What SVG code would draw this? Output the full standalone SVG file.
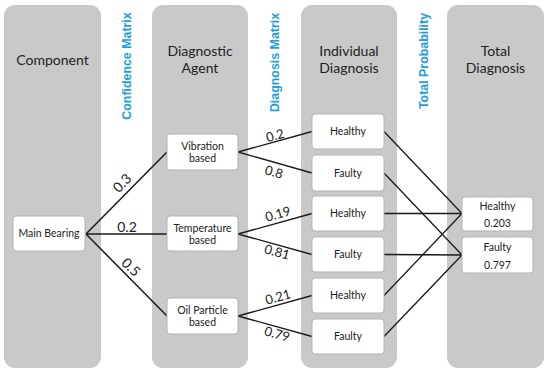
<svg xmlns="http://www.w3.org/2000/svg" width="550" height="374" viewBox="0 0 550 374">
<style>
.col{fill:#c9c9c9;}
.hdr{font-family:Lato,"Open Sans",sans-serif;font-size:14px;fill:#222;text-anchor:middle;}
.blue{font-family:"Liberation Sans",Arial,sans-serif;font-weight:bold;font-size:12.4px;fill:#1e9de0;text-anchor:middle;}
.box{fill:#fff;stroke:#b3b3b3;stroke-width:1;}
.t{font-family:Lato,"Open Sans",sans-serif;font-size:10.5px;fill:#222;text-anchor:middle;}
.lbl{font-family:Lato,"Open Sans",sans-serif;font-size:14px;fill:#222;text-anchor:middle;}
.sl{font-family:Lato,"Open Sans",sans-serif;font-size:13px;fill:#222;text-anchor:middle;}
.ln{stroke:#1a1a1a;stroke-width:1.3;fill:none;}
.ln2{stroke:#1a1a1a;stroke-width:1.5;fill:none;}
</style>
<rect width="550" height="374" fill="#fff"/>
<g id="columns">
<rect class="col" x="4" y="5" width="97" height="363" rx="11"/>
<rect class="col" x="152" y="5" width="96" height="363" rx="11"/>
<rect class="col" x="301" y="5" width="96" height="363" rx="11"/>
<rect class="col" x="447" y="5" width="97" height="363" rx="11"/>
<text class="hdr" x="52.5" y="64.5">Component</text>
<text class="hdr" x="200" y="56">Diagnostic</text>
<text class="hdr" x="200" y="73">Agent</text>
<text class="hdr" x="349" y="56">Individual</text>
<text class="hdr" x="349" y="73">Diagnosis</text>
<text class="hdr" x="495.5" y="56">Total</text>
<text class="hdr" x="495.5" y="73">Diagnosis</text>
</g>
<g id="matrix-labels">
<text class="blue" transform="translate(131,66) rotate(-90)">Confidence Matrix</text>
<text class="blue" transform="translate(279,62.5) rotate(-90)">Diagnosis Matrix</text>
<text class="blue" transform="translate(428,61) rotate(-90)">Total Probability</text>
</g>
<g id="connectors">
<path class="ln2" d="M86 234 L167 152 M86 234 L167 234 M86 234 L167 316"/>
<path class="ln" d="M238 152 L312 131.5 M238 152 L312 173"/>
<path class="ln" d="M238 234 L312 213.5 M238 234 L312 254.5"/>
<path class="ln" d="M238 316 L312 295.5 M238 316 L312 336.5"/>
<path class="ln" d="M384 131.5 L462 213.5 M384 213.5 L462 213.5 M384 295.5 L462 213.5"/>
<path class="ln" d="M384 173 L462 255 M384 254.5 L462 255 M384 336.5 L462 255"/>
<text class="lbl" transform="translate(122,183) rotate(-45)" y="5">0.3</text>
<text class="lbl" transform="translate(127,227)" y="5">0.2</text>
<text class="lbl" transform="translate(131,267) rotate(45)" y="5">0.5</text>
<text class="sl" transform="translate(275,135.5) rotate(-15.5)" y="4.5">0.2</text>
<text class="sl" transform="translate(274,172) rotate(15.5)" y="4.5">0.8</text>
<text class="sl" transform="translate(278,214) rotate(-15.5)" y="4.5">0.19</text>
<text class="sl" transform="translate(277,252) rotate(15.5)" y="4.5">0.81</text>
<text class="sl" transform="translate(278,297) rotate(-15.5)" y="4.5">0.21</text>
<text class="sl" transform="translate(277,334) rotate(15.5)" y="4.5">0.79</text>
</g>
<g id="main-bearing">
<rect class="box" x="13" y="216" width="72" height="35" rx="3"/>
<text class="t" x="49" y="237">Main Bearing</text>
</g>
<g id="vibration">
<rect class="box" x="167" y="134" width="71" height="36" rx="3"/>
<text class="t" x="202.5" y="149.5">Vibration</text>
<text class="t" x="202.5" y="162.2">based</text>
</g>
<g id="temperature">
<rect class="box" x="167" y="216" width="71" height="35" rx="3"/>
<text class="t" x="202.5" y="231.5">Temperature</text>
<text class="t" x="202.5" y="244.2">based</text>
</g>
<g id="oil">
<rect class="box" x="167" y="298" width="71" height="36" rx="3"/>
<text class="t" x="202.5" y="313.5">Oil Particle</text>
<text class="t" x="202.5" y="326.2">based</text>
</g>
<g id="healthy1">
<rect class="box" x="312" y="114" width="72" height="35" rx="3"/>
<text class="t" x="348" y="135">Healthy</text>
</g>
<g id="faulty1">
<rect class="box" x="312" y="155" width="72" height="36" rx="3"/>
<text class="t" x="348" y="176.5">Faulty</text>
</g>
<g id="healthy2">
<rect class="box" x="312" y="196" width="72" height="35" rx="3"/>
<text class="t" x="348" y="217">Healthy</text>
</g>
<g id="faulty2">
<rect class="box" x="312" y="237" width="72" height="35" rx="3"/>
<text class="t" x="348" y="258">Faulty</text>
</g>
<g id="healthy3">
<rect class="box" x="312" y="278" width="72" height="35" rx="3"/>
<text class="t" x="348" y="299">Healthy</text>
</g>
<g id="faulty3">
<rect class="box" x="312" y="319" width="72" height="35" rx="3"/>
<text class="t" x="348" y="340">Faulty</text>
</g>
<g id="total-healthy">
<rect class="box" x="462" y="197" width="71" height="34" rx="3"/>
<text class="t" x="497.5" y="209.5">Healthy</text>
<text class="t" x="497.5" y="226.5">0.203</text>
</g>
<g id="total-faulty">
<rect class="box" x="462" y="237" width="71" height="36" rx="3"/>
<text class="t" x="497.5" y="250.5">Faulty</text>
<text class="t" x="497.5" y="268.5">0.797</text>
</g>
</svg>
